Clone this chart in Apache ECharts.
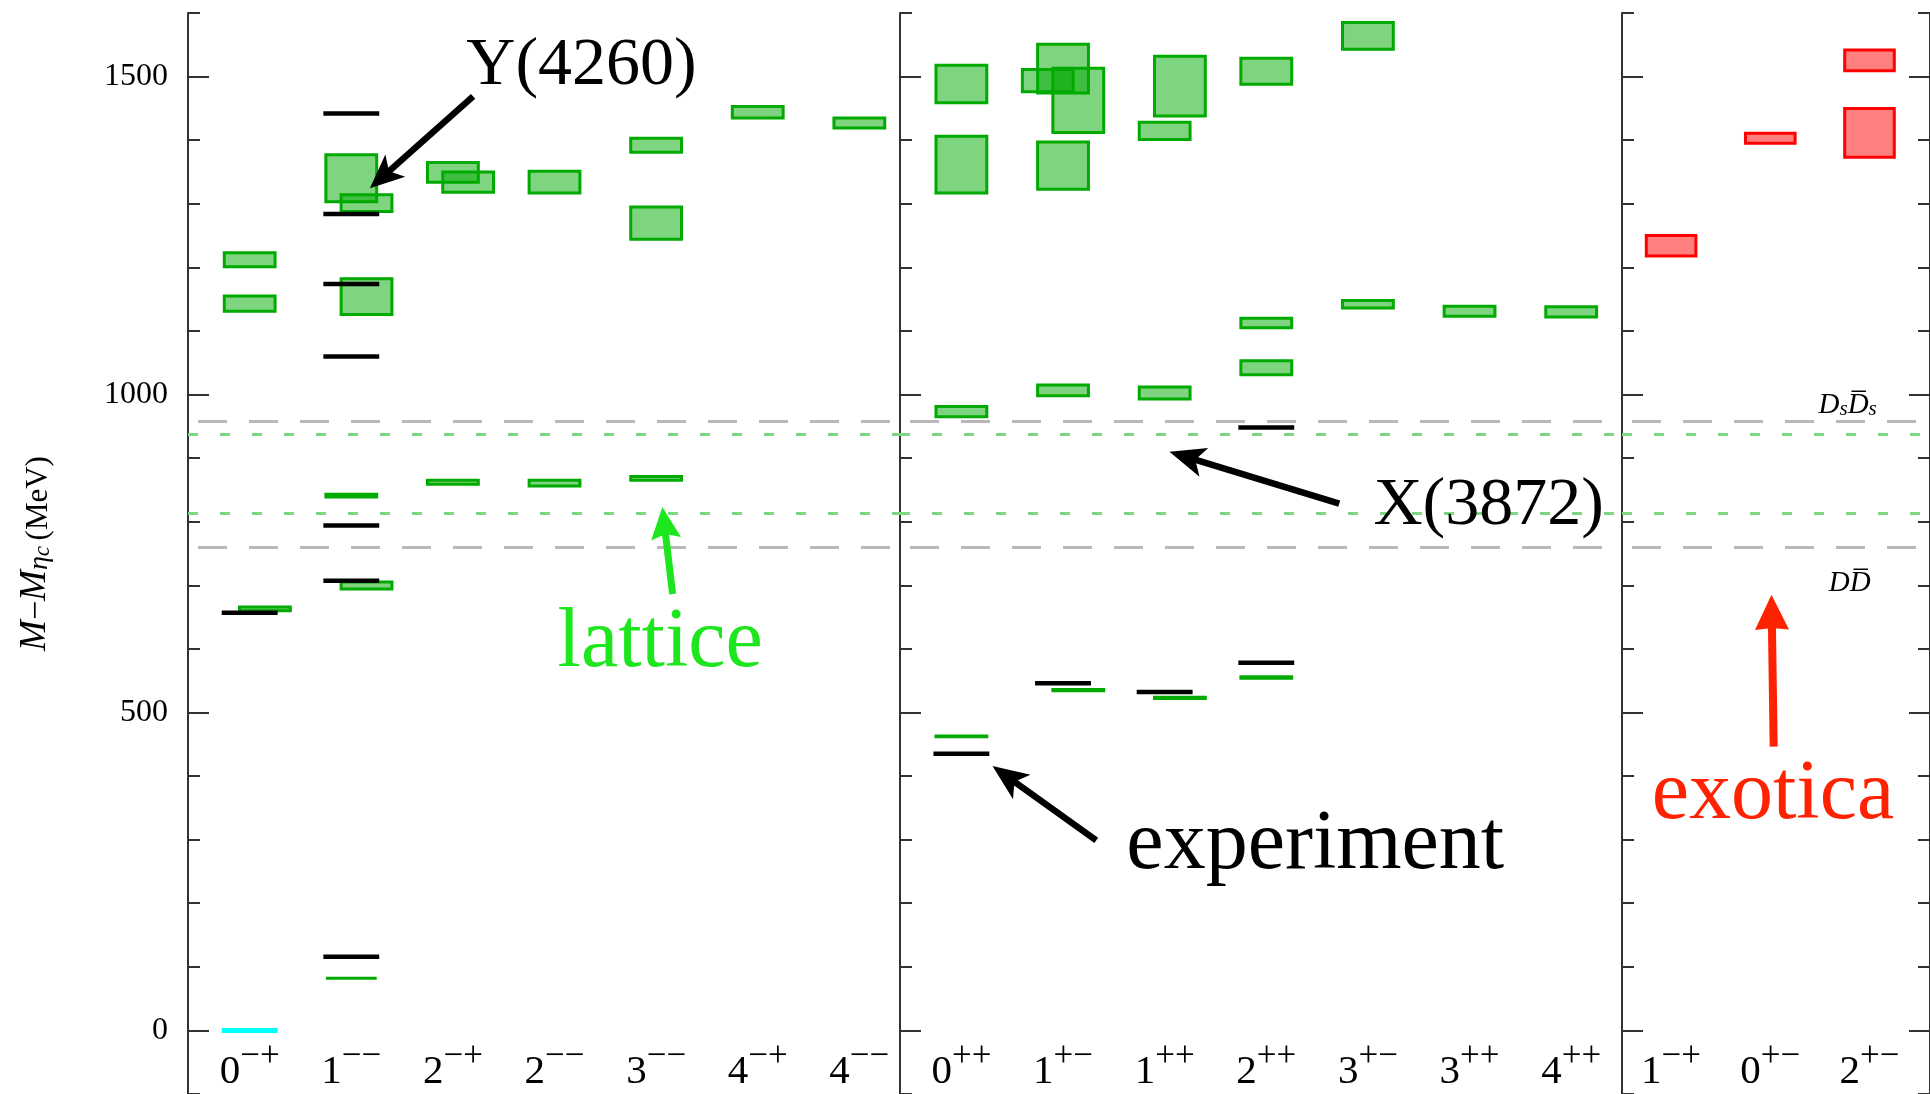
<!DOCTYPE html>
<html><head><meta charset="utf-8">
<script src="https://cdn.jsdelivr.net/npm/echarts@6/dist/echarts.min.js"></script>
<style>html,body{margin:0;padding:0;background:#fff}#c{width:1930px;height:1094px}</style>
</head><body><div id="c"></div>
<script>
// ---------------- data ----------------
const panel1Categories = ['0-+','1--','2-+','2--','3--','4-+','4--'];
const panel2Categories = ['0++','1+-','1++','2++','3+-','3++','4++'];
const exoticCategories = ['1-+','0+-','2+-'];
const yTickLabels = [0, 500, 1000, 1500];

// lattice states [J^PC, low, high] (MeV above eta_c)
const latticeLevels = [
  ['0-+',1201,1223],['0-+',1131,1155],
  ['1--',1303,1377],['1--',839,843],['1--',82,82],
  ['2-+',1334,1365],['2-+',859,865],
  ['2--',1317,1351],['2--',856,865],
  ['3--',1381,1403],['3--',1244,1295],['3--',865,871],
  ['4-+',1435,1453],
  ['4--',1419,1435],
  ['0++',1459,1518],['0++',1317,1406],['0++',965,981],['0++',462,463],
  ['1+-',1474,1551],['1+-',1323,1397],['1+-',998,1015],
  ['1++',1401,1428],['1++',993,1012],
  ['2++',1488,1529],['2++',1105,1120],['2++',1031,1053],['2++',554,556],
  ['3+-',1543,1585],['3+-',1136,1148],
  ['3++',1123,1139],
  ['4++',1122,1138]
];
// overlapping lattice states drawn beside the others
const latticeLevelsRight = [
  ['0-+',660,666],
  ['1--',1288,1314],['1--',1126,1182],['1--',694,705],
  ['2-+',1318,1350],
  ['1+-',1412,1513],['1+-',534,536],
  ['1++',1438,1532],['1++',522,524]
];
const latticeLevelsLeft = [
  ['1+-',1476,1511]
];
const exoticLevels = [
  ['1-+',1218,1250],
  ['0+-',1395,1411],
  ['2+-',1509,1542],['2+-',1373,1450]
];
const experimentLevels = [
  ['0-+',657],
  ['1--',1442],['1--',1284],['1--',1174],['1--',1060],['1--',794],['1--',707],['1--',116],
  ['0++',435],['1+-',546],['1++',532],['2++',578],['2++',948]
];
const etaCLevel = [['0-+',0]];
const mesonThresholds = [958, 760];     // Ds Dsbar , D Dbar (grey dashed)
const latticeThresholds = [937, 813];   // green dashed

// ---------------- layout / style ----------------
const SERIF = 'Liberation Serif';
const panelCategories = [panel1Categories, panel2Categories, exoticCategories];
const xRanges = [[-0.607, 6.40], [-0.604, 6.50], [-0.495, 2.61]];
const grids = [{left:188,width:712},{left:900,width:722},{left:1622,width:315}]
  .map(g => Object.assign({}, g, {top:13, height:1081}));
const HALF = 0.25, LANE = 0.15, LINE_HALF = 0.275;
const AXIS_COLOR = '#333';

function locate(cat){
  for (let p = 0; p < panelCategories.length; p++){
    const i = panelCategories[p].indexOf(cat);
    if (i >= 0) return [p, i];
  }
  return null;
}
function catLabel(code){
  const sup = code.slice(1).replace(/-/g, '\u2212');
  return '{b|' + code[0] + '}{s|' + sup + '}';
}
function boxSeries(list, lane, p, fill, stroke){
  const data = list.map(d => [locate(d[0]), d[1], d[2]])
                   .filter(d => d[0][0] === p).map(d => [d[0][1], d[1], d[2]]);
  return {type:'custom', xAxisIndex:p, yAxisIndex:2*p, data, silent:true, animation:false, z:3,
    renderItem:(params, api) => {
      const x = api.value(0) + lane*LANE, lo = api.value(1), hi = api.value(2);
      const a = api.coord([x-HALF, hi]), b = api.coord([x+HALF, lo]);
      return {type:'rect', shape:{x:a[0], y:a[1], width:b[0]-a[0], height:b[1]-a[1]},
              style:{fill, stroke, lineWidth:3}};
    }};
}
function levelSeries(list, p, color, thick){
  const data = list.map(d => [locate(d[0]), d[1]])
                   .filter(d => d[0][0] === p).map(d => [d[0][1], d[1]]);
  return {type:'custom', xAxisIndex:p, yAxisIndex:2*p, data, silent:true, animation:false, z:5,
    renderItem:(params, api) => {
      const x = api.value(0), v = api.value(1);
      const a = api.coord([x-LINE_HALF, v]), b = api.coord([x+LINE_HALF, v]);
      return {type:'rect', shape:{x:a[0], y:a[1]-thick/2, width:b[0]-a[0], height:thick},
              style:{fill:color}};
    }};
}
function thresholdSeries(p){
  const ml = [];
  mesonThresholds.forEach(v => ml.push({yAxis:v, lineStyle:{color:'#b8b8b8', width:3, type:[29,22], dashOffset:-10}}));
  latticeThresholds.forEach(v => ml.push({yAxis:v, lineStyle:{color:'#80d680', width:3, type:[10,22]}}));
  return {type:'line', xAxisIndex:p, yAxisIndex:2*p, data:[], silent:true, animation:false, z:1,
    markLine:{symbol:'none', silent:true, animation:false, label:{show:false}, data:ml}};
}

const xAxes = grids.map((g, p) => ({
  type:'value', gridIndex:p, min:xRanges[p][0], max:xRanges[p][1],
  axisLine:{show:false, onZero:false}, axisTick:{show:false}, splitLine:{show:false},
  axisLabel:{
    inside:true, margin:1,
    customValues: panelCategories[p].map((c, i) => i),
    formatter: v => catLabel(panelCategories[p][Math.round(v)]),
    rich:{
      b:{fontFamily:SERIF, fontSize:41, color:'#000', lineHeight:54, verticalAlign:'bottom'},
      s:{fontFamily:SERIF, fontSize:35, color:'#000', lineHeight:24, verticalAlign:'top'}
    }
  }
}));

const yAxes = [];
grids.forEach((g, p) => {
  yAxes.push({
    type:'value', gridIndex:p, position:'left', min:-100, max:1600,
    axisLine:{show:true, onZero:false, lineStyle:{color:AXIS_COLOR, width:2}},
    axisTick:{show:true, inside:true, length:21, customValues:yTickLabels, lineStyle:{color:AXIS_COLOR, width:2}},
    splitLine:{show:false},
    axisLabel: p === 0 ? {show:true, customValues:yTickLabels, margin:20, fontFamily:SERIF, fontSize:32, color:'#000',
                          formatter: v => String(v)} : {show:false},
    name: p === 0 ? '{i|M}{n|\u2212}{i|M}{sub|\u03b7}{sub2|c}{sp| }{u|(MeV)}' : '',
    nameLocation:'middle', nameRotate:90, nameGap:134,
    nameTextStyle:{rich:{
      i:{fontFamily:SERIF, fontStyle:'italic', fontSize:37, color:'#000', lineHeight:40, verticalAlign:'bottom'},
      n:{fontFamily:SERIF, fontSize:34, color:'#000', lineHeight:40, verticalAlign:'bottom'},
      sub:{fontFamily:SERIF, fontStyle:'italic', fontSize:28, color:'#000', lineHeight:20, verticalAlign:'bottom'},
      sub2:{fontFamily:SERIF, fontStyle:'italic', fontSize:23, color:'#000', lineHeight:12, verticalAlign:'bottom'},
      sp:{fontSize:20},
      u:{fontFamily:SERIF, fontSize:31, color:'#000', lineHeight:40, verticalAlign:'bottom'}
    }}
  });
  yAxes.push({
    type:'value', gridIndex:p, position:'left', min:-100, max:1600, interval:100,
    axisLine:{show:false, onZero:false}, axisLabel:{show:false}, splitLine:{show:false},
    axisTick:{show:true, inside:true, length:12, lineStyle:{color:AXIS_COLOR, width:2}}
  });
});
// right frame of the exotic panel
yAxes.push({
  type:'value', gridIndex:2, position:'right', min:-100, max:1600,
  axisLine:{show:true, onZero:false, lineStyle:{color:AXIS_COLOR, width:2}},
  axisTick:{show:true, inside:true, length:21, customValues:yTickLabels, lineStyle:{color:AXIS_COLOR, width:2}},
  axisLabel:{show:false}, splitLine:{show:false}
});
yAxes.push({
  type:'value', gridIndex:2, position:'right', min:-100, max:1600, interval:100,
  axisLine:{show:false, onZero:false}, axisLabel:{show:false}, splitLine:{show:false},
  axisTick:{show:true, inside:true, length:12, lineStyle:{color:AXIS_COLOR, width:2}}
});

const GREEN_FILL = 'rgba(0,170,0,0.5)', GREEN_STROKE = '#00aa00';
const series = [];
[0,1,2].forEach(p => series.push(thresholdSeries(p)));
[0,1].forEach(p => {
  series.push(boxSeries(latticeLevels, 0, p, GREEN_FILL, GREEN_STROKE));
  series.push(boxSeries(latticeLevelsRight, 1, p, GREEN_FILL, GREEN_STROKE));
  series.push(boxSeries(latticeLevelsLeft, -1, p, GREEN_FILL, GREEN_STROKE));
  series.push(levelSeries(experimentLevels, p, '#000', 4.5));
});
series.push(boxSeries(exoticLevels, 0, 2, 'rgba(255,0,0,0.5)', '#ff0000'));
series.push(levelSeries(etaCLevel, 0, '#00ffff', 5));

const option = {
  backgroundColor:'#fff', animation:false,
  grid: grids, xAxis: xAxes, yAxis: yAxes, series
};

const chart = echarts.init(document.getElementById('c'), null, {renderer:'canvas', width:1930, height:1094});
chart.setOption(option);

// ---------------- annotations (placed in data coordinates) ----------------
const annotationTexts = [
  {panel:0, at:[3.266,1517], text:'Y(4260)', size:68, color:'#000'},
  {panel:0, at:[4.04,607], text:'lattice', size:84, color:'#1ee61e'},
  {panel:1, at:[5.188,824], text:'X(3872)', size:68, color:'#000'},
  {panel:1, at:[3.482,290], text:'experiment', size:84, color:'#000'},
  {panel:2, at:[1.027,369], text:'exotica', size:84, color:'#ff2200'}
];
const annotationArrows = [
  {panel:0, from:[2.199,1468.8], to:[1.183,1324.5], color:'#000', width:6.5, head:[34,30], notch:0.25},
  {panel:0, from:[4.162,686.3], to:[4.061,823.1], color:'#1ee61e', width:7, head:[32,30], notch:0.15},
  {panel:1, from:[3.718,828.5], to:[2.047,909.9], color:'#000', width:6.5, head:[36,30], notch:0.25},
  {panel:1, from:[1.327,298.8], to:[0.306,415.7], color:'#000', width:6.5, head:[36,30], notch:0.25},
  {panel:2, from:[1.034,446.2], to:[1.012,685.1], color:'#ff2200', width:8, head:[35,34], notch:0.05}
];
const thresholdLabels = [
  {panel:2, at:[1.78,987], text:'{i|D}{s|s}{i|D\u0305}{s|s}'},
  {panel:2, at:[1.80,707], text:'{i|DD\u0305}'}
];

function px(p, pt){ return chart.convertToPixel({xAxisIndex:p, yAxisIndex:2*p}, pt); }
const graphics = [];
annotationArrows.forEach(a => {
  const t = px(a.panel, a.from), h = px(a.panel, a.to);
  const dx = h[0]-t[0], dy = h[1]-t[1], len = Math.hypot(dx, dy);
  const ux = dx/len, uy = dy/len, nx = -uy, ny = ux;
  const L = a.head[0], W = a.head[1];
  const back = [h[0]-ux*L, h[1]-uy*L];
  const notchPt = [h[0]-ux*L*(1-a.notch), h[1]-uy*L*(1-a.notch)];
  graphics.push({type:'line', silent:true, z:10,
    shape:{x1:t[0], y1:t[1], x2:notchPt[0]+ux*2, y2:notchPt[1]+uy*2},
    style:{stroke:a.color, lineWidth:a.width}});
  graphics.push({type:'polygon', silent:true, z:10,
    shape:{points:[h, [back[0]+nx*W/2, back[1]+ny*W/2], notchPt, [back[0]-nx*W/2, back[1]-ny*W/2]]},
    style:{fill:a.color}});
});
annotationTexts.forEach(a => {
  const c = px(a.panel, a.at);
  graphics.push({type:'text', silent:true, z:10, x:c[0], y:c[1],
    style:{text:a.text, fontFamily:SERIF, fontSize:a.size, fill:a.color, align:'center', verticalAlign:'middle'}});
});
thresholdLabels.forEach(a => {
  const c = px(a.panel, a.at);
  graphics.push({type:'text', silent:true, z:10, x:c[0], y:c[1],
    style:{text:a.text, align:'center', verticalAlign:'middle',
      rich:{
        i:{fontFamily:SERIF, fontStyle:'italic', fontSize:29, fill:'#000', lineHeight:34, verticalAlign:'bottom'},
        s:{fontFamily:SERIF, fontStyle:'italic', fontSize:21, fill:'#000', lineHeight:14, verticalAlign:'bottom'}
      }}});
});
chart.setOption({graphic: graphics});
</script>
</body></html>
